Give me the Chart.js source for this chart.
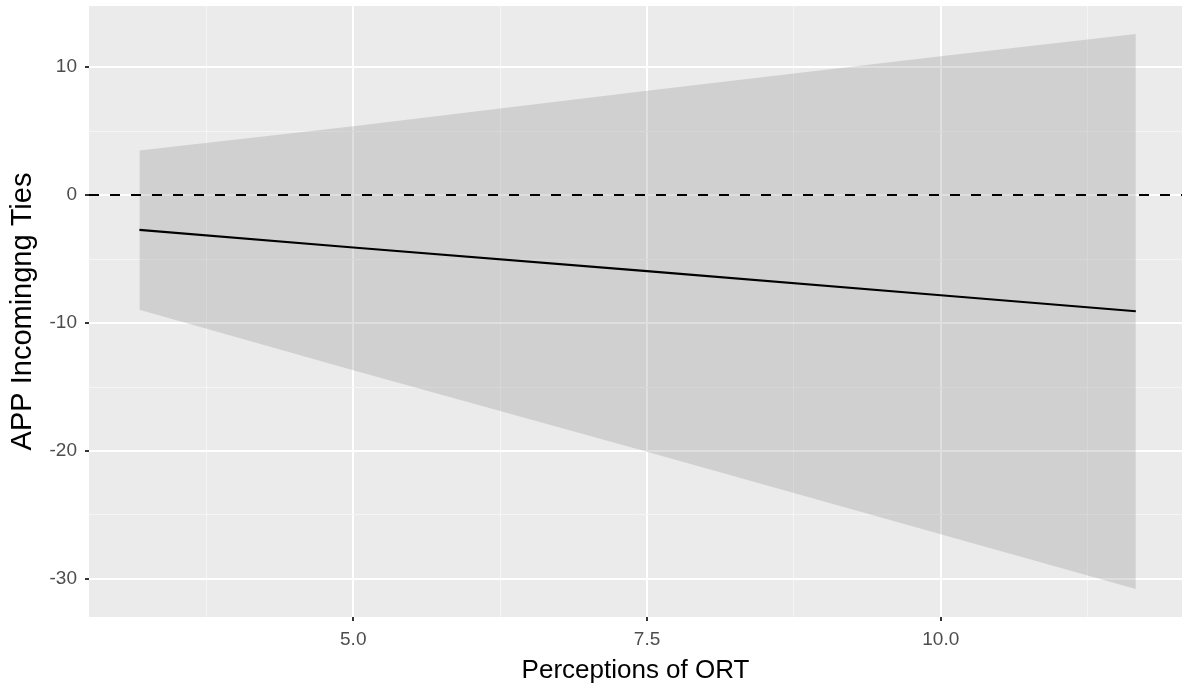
<!DOCTYPE html>
<html>
<head>
<meta charset="utf-8">
<script src="https://cdn.jsdelivr.net/npm/chart.js@4/dist/chart.umd.min.js"></script>
<style>
  html, body { margin: 0; padding: 0; background: #ffffff; }
  #wrap { width: 1182px; height: 686px; position: relative; }
</style>
</head>
<body>
<div id="wrap"><canvas id="c" width="1182" height="686"></canvas></div>
<script>
// ---- Data ----
const xValues   = [3.18, 5.0, 7.5, 10.0, 11.66];
const fitValues = [-2.72, -4.10, -5.95, -7.83, -9.08];
const upperCI   = [3.48, 5.38, 8.14, 10.85, 12.59];
const lowerCI   = [-8.97, -13.70, -20.05, -26.50, -30.79];
const refLineY  = 0;

const xMajorTicks = [5.0, 7.5, 10.0];
const xMinorTicks = [3.75, 6.25, 8.75, 11.25];
const yMajorTicks = [-30, -20, -10, 0, 10];
const yMinorTicks = [-25, -15, -5, 5];

const xAxisMin = 2.751, xAxisMax = 12.053;
const yAxisMin = -32.97, yAxisMax = 14.77;

const xTitle = 'Perceptions of ORT';
const yTitle = 'APP Incomingng Ties';

const toPts = (ys) => xValues.map((x, i) => ({ x: x, y: ys[i] }));

const panelBg = {
  id: 'panelBg',
  beforeDraw(chart) {
    const { ctx, chartArea: a } = chart;
    ctx.save();
    ctx.fillStyle = '#EBEBEB';
    ctx.fillRect(a.left, a.top, a.right - a.left, a.bottom - a.top);
    ctx.restore();
  }
};

const isMajor = (list, v) => list.some(t => Math.abs(t - v) < 1e-6);

new Chart(document.getElementById('c'), {
  type: 'line',
  data: {
    datasets: [
      { label: 'upper', data: toPts(upperCI), borderWidth: 0, pointRadius: 0,
        backgroundColor: 'rgba(127,127,127,0.25)', fill: 1, tension: 0, order: 3 },
      { label: 'lower', data: toPts(lowerCI), borderWidth: 0, pointRadius: 0,
        fill: false, tension: 0, order: 3 },
      { label: 'ref', data: [{ x: xAxisMin, y: refLineY }, { x: xAxisMax, y: refLineY }],
        borderColor: '#000000', borderWidth: 2, borderDash: [10, 11], pointRadius: 0,
        fill: false, order: 2 },
      { label: 'fit', data: toPts(fitValues), borderColor: '#000000', borderWidth: 2.2,
        pointRadius: 0, fill: false, tension: 0, order: 1 }
    ]
  },
  options: {
    responsive: false,
    animation: false,
    events: [],
    layout: { padding: { top: 6, right: 0, left: 0, bottom: 0 } },
    plugins: { legend: { display: false }, tooltip: { enabled: false } },
    scales: {
      x: {
        type: 'linear', min: xAxisMin, max: xAxisMax,
        afterBuildTicks(s) {
          s.ticks = [...xMinorTicks, ...xMajorTicks].sort((a, b) => a - b).map(v => ({ value: v }));
        },
        afterFit(s) { s.height = 69; s.paddingLeft = 0; s.paddingRight = 0; },
        border: { display: false },
        grid: {
          color: c => isMajor(xMajorTicks, c.tick.value) ? '#FFFFFF' : '#F5F5F5',
          lineWidth: c => isMajor(xMajorTicks, c.tick.value) ? 2 : 1,
          drawTicks: true, tickLength: 4,
          tickColor: c => isMajor(xMajorTicks, c.tick.value) ? '#333333' : 'rgba(0,0,0,0)',
          tickWidth: 2
        },
        ticks: {
          autoSkip: false, maxRotation: 0, padding: 7,
          color: '#4D4D4D', font: { family: 'Liberation Sans', size: 19 },
          callback: v => isMajor(xMajorTicks, v) ? v.toFixed(1) : ''
        },
        title: { display: true, text: xTitle, color: '#000000',
          font: { family: 'Liberation Sans', size: 26 }, padding: { top: 0, bottom: 0 } }
      },
      y: {
        type: 'linear', min: yAxisMin, max: yAxisMax,
        afterBuildTicks(s) {
          s.ticks = [...yMinorTicks, ...yMajorTicks].sort((a, b) => a - b).map(v => ({ value: v }));
        },
        afterFit(s) { s.width = 89; s.paddingTop = 0; s.paddingBottom = 0; },
        border: { display: false },
        grid: {
          color: c => isMajor(yMajorTicks, c.tick.value) ? '#FFFFFF' : '#F5F5F5',
          lineWidth: c => isMajor(yMajorTicks, c.tick.value) ? 2 : 1,
          drawTicks: true, tickLength: 4,
          tickColor: c => isMajor(yMajorTicks, c.tick.value) ? '#333333' : 'rgba(0,0,0,0)',
          tickWidth: 2
        },
        ticks: {
          autoSkip: false, padding: 8,
          color: '#4D4D4D', font: { family: 'Liberation Sans', size: 19 },
          callback: v => isMajor(yMajorTicks, v) ? String(v) : ''
        },
        title: { display: true, text: yTitle, color: '#000000',
          font: { family: 'Liberation Sans', size: 29 }, padding: { top: 6, bottom: 0 } }
      }
    }
  },
  plugins: [panelBg]
});
</script>
</body>
</html>
